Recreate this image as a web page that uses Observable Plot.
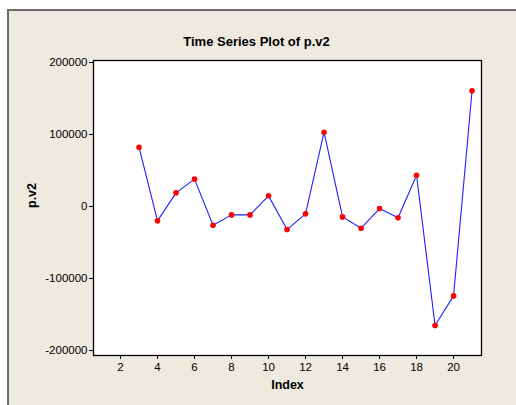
<!DOCTYPE html>
<html>
<head>
<meta charset="utf-8">
<script src="https://cdn.jsdelivr.net/npm/d3@7"></script>
<script src="https://cdn.jsdelivr.net/npm/@observablehq/plot@0.6"></script>
<style>
  html, body { margin: 0; padding: 0; background: #ffffff; }
  #wrap { position: relative; width: 516px; height: 405px; overflow: hidden; background: #ffffff; }
  #panel { position: absolute; left: 7px; top: 9px; width: 520px; height: 400px;
           background: #EEEAE0; border-left: 2px solid #6b6b6b; border-top: 2px solid #6b6b6b; }
  #chart { position: absolute; left: 0; top: 0; }
</style>
</head>
<body>
<div id="wrap"><div id="panel"></div><div id="chart"></div></div>
<script>
const titleText = "Time Series Plot of p.v2";
const xLabel = "Index";
const yLabel = "p.v2";
const indexValues = [3, 4, 5, 6, 7, 8, 9, 10, 11, 12, 13, 14, 15, 16, 17, 18, 19, 20, 21];
const seriesValues = [82400, -19900, 19000, 38000, -26000, -11600, -11600, 14800, -32000, -10200,
                      103200, -14400, -30100, -2800, -15700, 43500, -165300, -124100, 160700];
const xTicks = [2, 4, 6, 8, 10, 12, 14, 16, 18, 20];
const yTicks = [-200000, -100000, 0, 100000, 200000];

const data = indexValues.map((x, i) => ({x, y: seriesValues[i]}));

const fontFam = "'Liberation Sans', Arial, sans-serif";

const plot = Plot.plot({
  width: 516,
  height: 405,
  marginLeft: 93,
  marginRight: 35,
  marginTop: 60,
  marginBottom: 50,
  style: {background: "transparent", fontFamily: fontFam, fontSize: "11.5px", color: "#000"},
  x: {domain: [0.54, 21.51], ticks: xTicks, label: null},
  y: {domain: [-206900, 202800], ticks: yTicks, label: null},
  marks: [
    Plot.frame({fill: "white", stroke: null}),
    Plot.axisX({ticks: xTicks, tickSize: 4, tickPadding: 3, tickFormat: d => String(d), label: null, stroke: "#000"}),
    Plot.axisY({ticks: yTicks, tickSize: 4, tickPadding: 2, tickFormat: d => String(d), label: null, stroke: "#000"}),
    Plot.line(data, {x: "x", y: "y", stroke: "#2020ff", strokeWidth: 1.1}),
    Plot.dot(data, {x: "x", y: "y", r: 2.8, fill: "#ff0000", stroke: null}),
    Plot.frame({stroke: "#000", strokeWidth: 1.3}),
    Plot.text([titleText], {frameAnchor: "top", dx: -31, dy: -24, text: d => d, fontWeight: "bold", fontSize: 13, fill: "#000"}),
    Plot.text([xLabel], {frameAnchor: "bottom", dy: 33, text: d => d, fontWeight: "bold", fontSize: 12.5, fill: "#000"}),
    Plot.text([yLabel], {frameAnchor: "left", dx: -62, dy: 0, rotate: -90, text: d => d, fontWeight: "bold", fontSize: 12.5, fill: "#000"})
  ]
});
document.getElementById("chart").appendChild(plot);
</script>
</body>
</html>
